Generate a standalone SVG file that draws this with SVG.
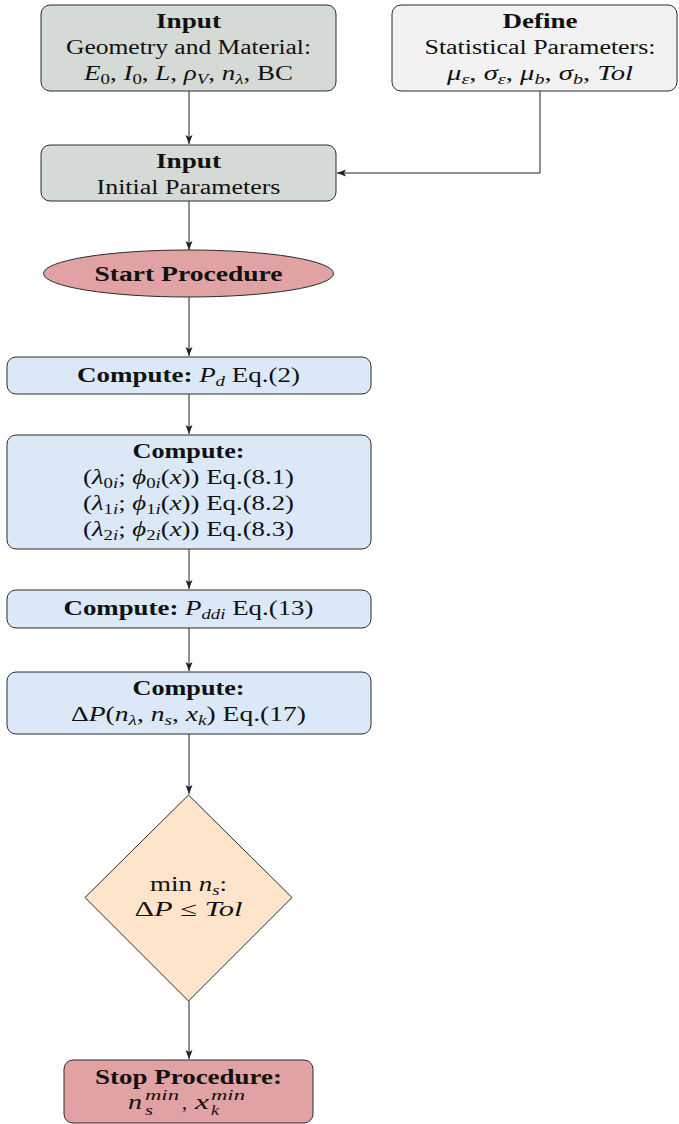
<svg xmlns="http://www.w3.org/2000/svg" width="679" height="1124" viewBox="0 0 679 1124">
<style>
.box{stroke:#2b2b2b;stroke-width:1}
.gin{fill:#d4dbd6}
.gdef{fill:#f2f2f2}
.pink{fill:#e0a2a2}
.blue{fill:#dae8f7}
.orange{fill:#fde4ca}
text{font-family:"Liberation Serif","Times New Roman",serif;font-size:20px;fill:#111;text-anchor:middle}
.b{font-weight:bold}
.i{font-style:italic}
.s{font-size:14px}
.l{text-anchor:start}
.c{fill:none;stroke:#222;stroke-width:1}
</style>
<defs>
<marker id="ah" viewBox="0 0 10 8" refX="9" refY="4" markerWidth="10" markerHeight="8" markerUnits="userSpaceOnUse" orient="auto">
<path d="M0,0.5 L9,4 L0,7.5 L2,4 z" fill="#222"/>
</marker>
</defs>

<g id="connectors">
<path class="c" d="M189,91 V144" marker-end="url(#ah)"/>
<path class="c" d="M540,91 V173 H337" marker-end="url(#ah)"/>
<path class="c" d="M189,201 V250" marker-end="url(#ah)"/>
<path class="c" d="M189,297 V356" marker-end="url(#ah)"/>
<path class="c" d="M189,394 V434" marker-end="url(#ah)"/>
<path class="c" d="M189,549 V589" marker-end="url(#ah)"/>
<path class="c" d="M189,628 V671" marker-end="url(#ah)"/>
<path class="c" d="M189,734 V794" marker-end="url(#ah)"/>
<path class="c" d="M189,1001 V1059" marker-end="url(#ah)"/>
</g>

<g id="input-geometry">
<rect class="box gin" x="41" y="5" width="295" height="86" rx="9"/>
<text x="188.5" y="28" class="b" textLength="65" lengthAdjust="spacingAndGlyphs">Input</text>
<text x="188.5" y="54" textLength="245" lengthAdjust="spacingAndGlyphs">Geometry and Material:</text>
<text x="188.5" y="80" textLength="209" lengthAdjust="spacingAndGlyphs"><tspan class="i">E</tspan><tspan class="s" dy="4">0</tspan><tspan dy="-4">, </tspan><tspan class="i">I</tspan><tspan class="s" dy="4">0</tspan><tspan dy="-4">, </tspan><tspan class="i">L</tspan><tspan>, </tspan><tspan class="i">ρ</tspan><tspan class="s i" dy="4">V</tspan><tspan dy="-4">, </tspan><tspan class="i">n</tspan><tspan class="s i" dy="4">λ</tspan><tspan dy="-4">, BC</tspan></text>
</g>

<g id="define-statistical">
<rect class="box gdef" x="392" y="5" width="285" height="86" rx="9"/>
<text x="540" y="28" class="b" textLength="75" lengthAdjust="spacingAndGlyphs">Define</text>
<text x="540" y="54" textLength="231" lengthAdjust="spacingAndGlyphs">Statistical Parameters:</text>
<text x="540" y="80" textLength="186" lengthAdjust="spacingAndGlyphs"><tspan class="i">μ</tspan><tspan class="s i" dy="4">ε</tspan><tspan dy="-4">, </tspan><tspan class="i">σ</tspan><tspan class="s i" dy="4">ε</tspan><tspan dy="-4">, </tspan><tspan class="i">μ</tspan><tspan class="s i" dy="4">b</tspan><tspan dy="-4">, </tspan><tspan class="i">σ</tspan><tspan class="s i" dy="4">b</tspan><tspan dy="-4">, </tspan><tspan class="i">Tol</tspan></text>
</g>

<g id="input-initial">
<rect class="box gin" x="41" y="145" width="295" height="56" rx="9"/>
<text x="188.5" y="168" class="b" textLength="65" lengthAdjust="spacingAndGlyphs">Input</text>
<text x="188.5" y="194" textLength="184" lengthAdjust="spacingAndGlyphs">Initial Parameters</text>
</g>

<g id="start">
<ellipse class="box pink" cx="188.5" cy="273.5" rx="145" ry="23.5"/>
<text x="188.5" y="281" class="b" textLength="188" lengthAdjust="spacingAndGlyphs">Start Procedure</text>
</g>

<g id="compute-pd">
<rect class="box blue" x="7" y="357" width="364" height="37" rx="9"/>
<text x="188.5" y="382" textLength="223" lengthAdjust="spacingAndGlyphs"><tspan class="b">Compute: </tspan><tspan class="i">P</tspan><tspan class="s i" dy="4">d</tspan><tspan dy="-4"> Eq.(2)</tspan></text>
</g>

<g id="compute-eigen">
<rect class="box blue" x="7" y="435" width="364" height="114" rx="9"/>
<text x="188.5" y="458" class="b" textLength="112" lengthAdjust="spacingAndGlyphs">Compute:</text>
<text x="188.5" y="484" textLength="211" lengthAdjust="spacingAndGlyphs">(<tspan class="i">λ</tspan><tspan class="s" dy="4">0<tspan class="i">i</tspan></tspan><tspan dy="-4">; </tspan><tspan class="i">ϕ</tspan><tspan class="s" dy="4">0<tspan class="i">i</tspan></tspan><tspan dy="-4">(</tspan><tspan class="i">x</tspan><tspan>)) Eq.(8.1)</tspan></text>
<text x="188.5" y="510" textLength="211" lengthAdjust="spacingAndGlyphs">(<tspan class="i">λ</tspan><tspan class="s" dy="4">1<tspan class="i">i</tspan></tspan><tspan dy="-4">; </tspan><tspan class="i">ϕ</tspan><tspan class="s" dy="4">1<tspan class="i">i</tspan></tspan><tspan dy="-4">(</tspan><tspan class="i">x</tspan><tspan>)) Eq.(8.2)</tspan></text>
<text x="188.5" y="536" textLength="211" lengthAdjust="spacingAndGlyphs">(<tspan class="i">λ</tspan><tspan class="s" dy="4">2<tspan class="i">i</tspan></tspan><tspan dy="-4">; </tspan><tspan class="i">ϕ</tspan><tspan class="s" dy="4">2<tspan class="i">i</tspan></tspan><tspan dy="-4">(</tspan><tspan class="i">x</tspan><tspan>)) Eq.(8.3)</tspan></text>
</g>

<g id="compute-pddi">
<rect class="box blue" x="7" y="590" width="364" height="38" rx="9"/>
<text x="188.5" y="615" textLength="250" lengthAdjust="spacingAndGlyphs"><tspan class="b">Compute: </tspan><tspan class="i">P</tspan><tspan class="s i" dy="4">ddi</tspan><tspan dy="-4"> Eq.(13)</tspan></text>
</g>

<g id="compute-deltap">
<rect class="box blue" x="7" y="672" width="364" height="62" rx="9"/>
<text x="188.5" y="695" class="b" textLength="112" lengthAdjust="spacingAndGlyphs">Compute:</text>
<text x="188.5" y="721" textLength="235" lengthAdjust="spacingAndGlyphs">Δ<tspan class="i">P</tspan>(<tspan class="i">n</tspan><tspan class="s i" dy="4">λ</tspan><tspan dy="-4">, </tspan><tspan class="i">n</tspan><tspan class="s i" dy="4">s</tspan><tspan dy="-4">, </tspan><tspan class="i">x</tspan><tspan class="s i" dy="4">k</tspan><tspan dy="-4">) Eq.(17)</tspan></text>
</g>

<g id="decision">
<polygon class="box orange" points="188.5,795 292,897.5 188.5,1001 85,897.5"/>
<text x="188.5" y="891" textLength="77" lengthAdjust="spacingAndGlyphs">min <tspan class="i">n</tspan><tspan class="s i" dy="4">s</tspan><tspan dy="-4">:</tspan></text>
<text x="188.5" y="916" textLength="108" lengthAdjust="spacingAndGlyphs">Δ<tspan class="i">P</tspan> ≤ <tspan class="i">Tol</tspan></text>
</g>

<g id="stop">
<rect class="box pink" x="64" y="1060" width="249" height="63" rx="9"/>
<text x="188.5" y="1084" class="b" textLength="187" lengthAdjust="spacingAndGlyphs">Stop Procedure:</text>
<text x="128" y="1109" class="l i" textLength="14" lengthAdjust="spacingAndGlyphs">n</text>
<text x="145" y="1100" class="l i s" textLength="34" lengthAdjust="spacingAndGlyphs">min</text>
<text x="145" y="1115" class="l i s" textLength="8" lengthAdjust="spacingAndGlyphs">s</text>
<text x="182" y="1109" class="l">,</text>
<text x="195" y="1109" class="l i" textLength="14" lengthAdjust="spacingAndGlyphs">x</text>
<text x="211" y="1100" class="l i s" textLength="34" lengthAdjust="spacingAndGlyphs">min</text>
<text x="211" y="1115" class="l i s" textLength="8" lengthAdjust="spacingAndGlyphs">k</text>
</g>
</svg>
